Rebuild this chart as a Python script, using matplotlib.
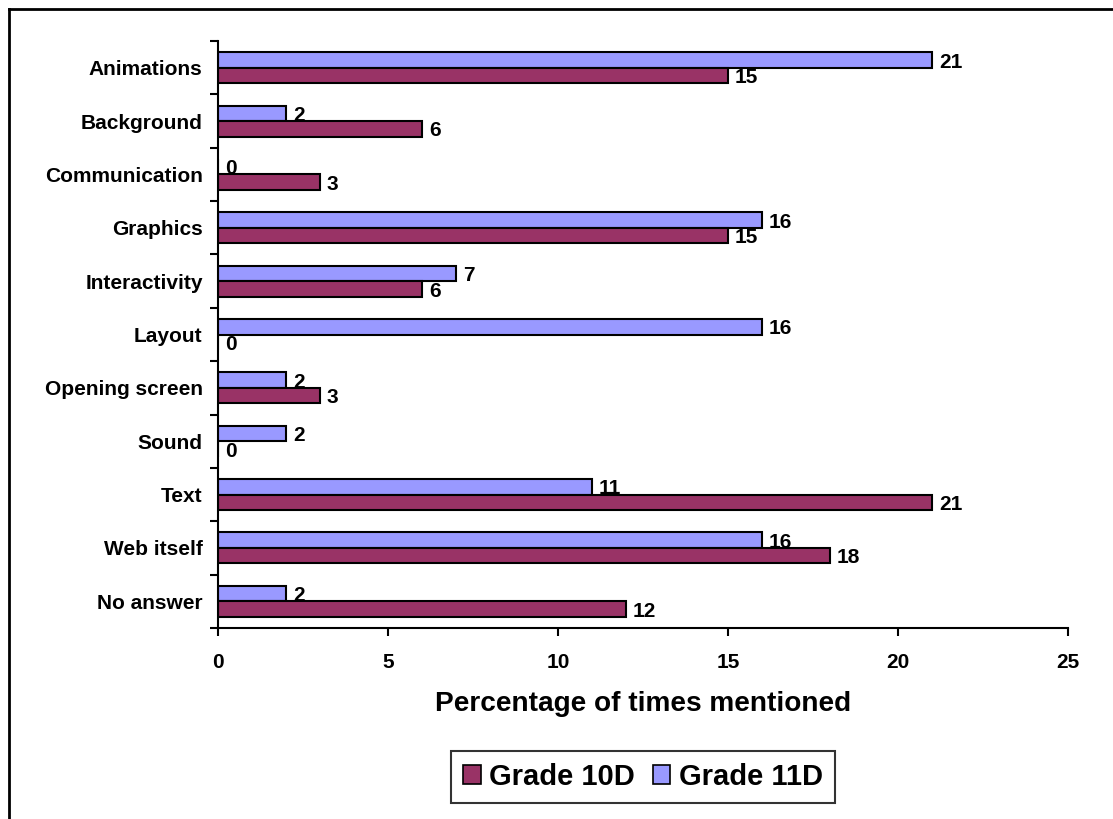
import matplotlib
matplotlib.use("Agg")
import matplotlib.pyplot as plt
from matplotlib.patches import Patch
from matplotlib.lines import Line2D
import numpy as np

plt.rcParams['font.family'] = ['Liberation Sans', 'DejaVu Sans']
plt.rcParams['font.weight'] = 'bold'

categories = ["Animations", "Background", "Communication", "Graphics", "Interactivity",
              "Layout", "Opening screen", "Sound", "Text", "Web itself", "No answer"]
grade_10d = [15, 6, 3, 15, 6, 0, 3, 0, 21, 18, 12]
grade_11d = [21, 2, 0, 16, 7, 16, 2, 2, 11, 16, 2]
x_ticks = [0, 5, 10, 15, 20, 25]

color_10d = "#993366"
color_11d = "#9999FF"

fig = plt.figure(figsize=(11.13, 8.19), dpi=100)
ax = fig.add_axes([218 / 1113, 1 - 628 / 819, 850 / 1113, 587 / 819])

n = len(categories)
pos = np.arange(n)
h = 0.29
ax.barh(pos - h / 2, grade_11d, height=h, color=color_11d, edgecolor="black", linewidth=1.5)
ax.barh(pos + h / 2, grade_10d, height=h, color=color_10d, edgecolor="black", linewidth=1.5)

for p, v in zip(pos, grade_11d):
    ax.text(v + 0.2, p - h / 2 + 0.04, str(v), va="center", ha="left", fontsize=15, fontweight="bold")
for p, v in zip(pos, grade_10d):
    ax.text(v + 0.2, p + h / 2 + 0.04, str(v), va="center", ha="left", fontsize=15, fontweight="bold")

ax.set_ylim(n - 0.5, -0.5)
ax.set_xlim(0, 25)
ax.set_xticks(x_ticks)
ax.set_xticklabels([str(t) for t in x_ticks], fontsize=15, fontweight="bold")
ax.set_yticks(np.arange(n + 1) - 0.5)
ax.set_yticklabels([])
ax.set_yticks(pos, minor=True)
ax.set_yticklabels(categories, minor=True, fontsize=15, fontweight="bold")
ax.tick_params(axis="y", which="minor", length=0, pad=11)
ax.tick_params(axis="y", which="major", length=6, width=1.5, direction="out")
ax.tick_params(axis="x", length=6, width=1.5, direction="out", pad=12)

for side in ["top", "right"]:
    ax.spines[side].set_visible(False)
for side in ["left", "bottom"]:
    ax.spines[side].set_linewidth(1.5)

ax.set_xlabel("Percentage of times mentioned", fontsize=20.2, fontweight="bold", labelpad=14)

handles = [Patch(facecolor=color_10d, edgecolor="black", linewidth=1.2, label="Grade 10D"),
           Patch(facecolor=color_11d, edgecolor="black", linewidth=1.2, label="Grade 11D")]
leg = fig.legend(handles=handles, loc="center", bbox_to_anchor=(643 / 1113, 1 - 777 / 819),
                 ncol=2, frameon=True, fancybox=False, edgecolor="black",
                 prop={"size": 21, "weight": "bold"}, handlelength=0.6, handleheight=0.6,
                 handletextpad=0.3, columnspacing=0.6, borderpad=0.4, borderaxespad=0)
leg.get_frame().set_linewidth(1.5)

# Outer chart border (top and left edges visible)
fig.add_artist(Line2D([8.5 / 1113, 1.0], [1 - 8.5 / 819, 1 - 8.5 / 819], transform=fig.transFigure,
                      color="black", linewidth=2))
fig.add_artist(Line2D([8.5 / 1113, 8.5 / 1113], [0.0, 1 - 8.5 / 819], transform=fig.transFigure,
                      color="black", linewidth=2))

fig.savefig("out.png", dpi=100)
